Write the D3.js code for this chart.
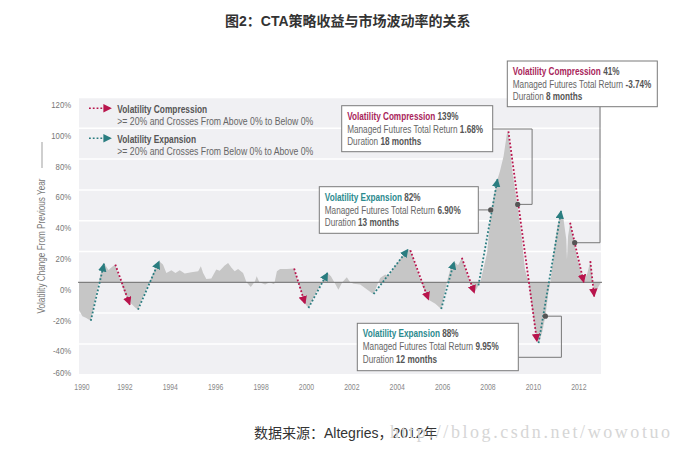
<!DOCTYPE html>
<html><head><meta charset="utf-8">
<script src="https://cdn.jsdelivr.net/npm/d3@7"></script>
<style>
body{margin:0;background:#fff;}
svg{display:block;}
.nar{font-family:'Liberation Sans','Arial',sans-serif;}
</style></head><body>
<svg id="c" width="682" height="449"></svg>
<script>
// ---------- DATA ----------
const seriesYears = [1990.00,1990.15,1990.30,1990.52,1990.70,1990.87,1991.00,1991.10,1991.30,1991.45,1991.60,1991.80,1992.00,1992.24,1992.45,1992.60,1992.80,1993.10,1993.30,1993.53,1993.70,1993.85,1994.07,1994.25,1994.44,1994.66,1994.95,1995.25,1995.37,1995.47,1995.61,1995.83,1996.05,1996.20,1996.42,1996.57,1996.72,1996.86,1997.01,1997.23,1997.38,1997.57,1997.75,1997.83,1997.95,1998.20,1998.40,1998.60,1998.72,1998.86,1999.16,1999.48,1999.70,1999.96,2000.11,2000.40,2000.70,2000.95,2001.10,2001.25,2001.43,2001.60,2001.80,2001.95,2002.10,2002.39,2002.60,2002.90,2002.98,2003.27,2003.49,2003.65,2003.86,2004.08,2004.30,2004.49,2004.60,2004.90,2005.15,2005.40,2005.70,2005.96,2006.21,2006.35,2006.53,2006.70,2006.87,2007.10,2007.30,2007.45,2007.68,2007.98,2008.12,2008.27,2008.44,2008.55,2008.71,2008.85,2008.92,2009.08,2009.30,2009.50,2009.65,2009.81,2009.95,2010.10,2010.25,2010.40,2010.55,2010.68,2010.77,2010.91,2011.08,2011.24,2011.35,2011.47,2011.50,2011.55,2011.64,2011.82,2011.97,2012.24,2012.40,2012.53,2012.62,2012.72,2012.90,2013.00];
const seriesValues = [-18,-22,-23,-25,-12,0,9,12.6,8,10,11.5,2,-7,-13,-16,-17.8,-10,0,7,13.7,11.5,6,7.8,6,7.8,5.7,6.5,7.2,10.4,6,2.2,2.5,8.3,7.5,10.9,12.6,9.5,7.2,8.7,6,0,-3,0.5,3.9,0,-1.5,0,-1.3,7.2,8.7,8.7,8.9,-2,-13.9,-16.7,-8,0,6.1,4,0,-4.8,0,3.3,0,-1,-1.5,-3.7,-6.9,-7.6,2.8,5,4,9.4,13.7,18,21.3,20.8,8,-3,-11.3,-14,-17.3,0,8,13.3,11,15.9,5,-2,-6,0,19,40.8,56,66.9,72.3,82,96.2,98,73.4,51.7,30,8.3,0,-15.6,-30.8,-39.5,-33,-22,-6.9,0,19,36.5,46.3,40.8,28,14.8,30,38.7,25.7,14.8,0,6,13.7,2,-7,-2.6,0];

// Volatility expansion moves (teal): start [year, value] -> end [year, value]
const expansionStart = [[1990.52,-25],[1992.60,-17.8],[2000.11,-16.7],[2002.98,-7.6],[2005.96,-17.3],[2007.60,-2],[2010.25,-39.5]];
const expansionEnd   = [[1991.10,12],[1993.53,13.7],[2000.95,6.1],[2004.49,21.3],[2006.53,13.3],[2008.44,66.9],[2011.24,46.3]];
// Volatility compression moves (red)
const compressionStart = [[1991.60,11.5],[1999.48,8.9],[2004.60,20.8],[2006.87,15.9],[2008.92,98],[2011.64,38.7],[2012.53,13.7]];
const compressionEnd   = [[1992.24,-14.5],[1999.96,-13.9],[2005.40,-11.3],[2007.42,-6.9],[2010.18,-38.4],[2012.24,0],[2012.70,-9.1]];

const xTickYears = [1990,1992,1994,1996,1998,2000,2002,2004,2006,2008,2010,2012];
const yTickValues = [-60,-40,-20,0,20,40,60,80,100,120];

// Annotations
const annType     = ["Volatility Compression","Volatility Expansion","Volatility Compression","Volatility Expansion"];
const annMove     = ["139%","82%","41%","88%"];
const annReturn   = ["1.68%","6.90%","-3.74%","9.95%"];
const annDuration = ["18 months","13 months","8 months","12 months"];
const annAnchor   = [[2009.33,50.6],[2008.14,47],[2011.84,25.7],[2010.55,-22]];

// ---------- LAYOUT ----------
const NARROW = 0.82;
const svg = d3.select('#c');
const x = d3.scaleLinear().domain([1990,2013]).range([79,601]);
const y = d3.scaleLinear().domain([-60,120]).range([374.7,97.5]);
const RED = '#b8144c', TEAL = '#2a7d80';

function ntext(parent, px, py, size, rot){
  return parent.append('text').attr('class','nar')
    .attr('transform',`translate(${px},${py})${rot?` rotate(${rot})`:''} scale(${NARROW},1)`)
    .style('font-size',size+'px');
}

// title
svg.append('text').attr('x',225).attr('y',26)
  .style('font-family',"'Liberation Sans','Noto Sans CJK SC',sans-serif")
  .style('font-weight','bold').style('font-size','14px').attr('fill','#333')
  .text('图2：CTA策略收益与市场波动率的关系');

// plot background
svg.append('rect').attr('x',x(1990)).attr('y',y(120)).attr('width',x(2013)-x(1990)).attr('height',y(-60)-y(120)).attr('fill','#f0f0f3');

// gridlines
svg.append('g').selectAll('line').data(yTickValues.filter(v=>v!==0)).join('line')
  .attr('x1',x(1990)).attr('x2',x(2013)).attr('y1',d=>y(d)).attr('y2',d=>y(d))
  .attr('stroke','#ffffff').attr('stroke-width',1.5);

// area
const pts = seriesYears.map((t,i)=>[t,seriesValues[i]]);
svg.append('path').datum(pts)
  .attr('d',d3.area().x(d=>x(d[0])).y0(y(0)).y1(d=>y(d[1])))
  .attr('fill','#c6c6c6');

// zero line
svg.append('line').attr('x1',x(1990)-1).attr('x2',x(2013)+1).attr('y1',y(0)).attr('y2',y(0))
  .attr('stroke','#6a6a6a').attr('stroke-width',1);

// markers
const defs = svg.append('defs');
[['arrR',RED],['arrT',TEAL]].forEach(([id,c])=>{
  defs.append('marker').attr('id',id).attr('viewBox','0 0 10 10').attr('refX',9).attr('refY',5)
    .attr('markerWidth',8.5).attr('markerHeight',8.5).attr('markerUnits','userSpaceOnUse').attr('orient','auto')
    .append('path').attr('d','M0,0 L10,5 L0,10 Z').attr('fill',c);
});

function moves(starts, ends, color, mid){
  svg.append('g').selectAll('line').data(starts.map((s,i)=>[s,ends[i]])).join('line')
    .attr('x1',d=>x(d[0][0])).attr('y1',d=>y(d[0][1]))
    .attr('x2',d=>x(d[1][0])).attr('y2',d=>y(d[1][1]))
    .attr('stroke',color).attr('stroke-width',1.8).attr('stroke-dasharray','1.8,2')
    .attr('marker-end',`url(#${mid})`);
}
moves(expansionStart, expansionEnd, TEAL, 'arrT');
moves(compressionStart, compressionEnd, RED, 'arrR');

// axes
const ya = svg.append('g').attr('transform',`translate(72,0)`)
  .call(d3.axisLeft(y).tickValues(yTickValues).tickFormat(d=>d+'%').tickSize(0).tickPadding(1));
ya.select('.domain').remove();
ya.selectAll('text').attr('class','nar').style('font-size','9.5px').attr('fill','#777')
  .attr('dy',d=> d===-60 ? '0.1em' : '1.05em').attr('transform',`scale(${NARROW},1)`);
const xa = svg.append('g').attr('transform',`translate(0,${y(-60)})`)
  .call(d3.axisBottom(x).tickValues(xTickYears).tickFormat(d3.format('d')).tickSize(0).tickPadding(9));
xa.select('.domain').remove();
xa.selectAll('text').attr('class','nar').style('font-size','8.4px').attr('fill','#888')
  .attr('dx',d=>d===1990?'3':'0').attr('transform',`scale(${NARROW},1)`);

// y title
svg.append('rect').attr('x',41).attr('y',142).attr('width',2).attr('height',26).attr('fill','#cfcfcf');
ntext(svg,45,246,10,-90).attr('text-anchor','middle').attr('fill','#777')
  .text('Volatility Change From Previous Year');

// legend
const leg = [[RED,'arrR','Volatility Compression','>= 20% and Crosses From Above 0% to Below 0%',108.3],
             [TEAL,'arrT','Volatility Expansion','>= 20% and Crosses From Below 0% to Above 0%',138.3]];
leg.forEach(([c,m,t1,t2,yy])=>{
  svg.append('line').attr('x1',89).attr('x2',111).attr('y1',yy).attr('y2',yy)
    .attr('stroke',c).attr('stroke-width',1.6).attr('stroke-dasharray','1.8,2').attr('marker-end',`url(#${m})`);
  ntext(svg,117.3,yy+4.3,10.2).style('font-weight','bold').attr('fill','#555').text(t1);
  ntext(svg,117.3,yy+16.3,10.6).attr('fill','#666').text(t2);
});

// annotation boxes (layout)
const boxes = [{x:341.7,y:105.7,w:151,h:46},{x:319.3,y:186.7,w:159,h:46.6},{x:507.3,y:61,w:150,h:45.7},{x:357.3,y:323.3,w:161,h:47.4}];
annType.forEach((tp,i)=>{
  const b = boxes[i];
  const ax = x(annAnchor[i][0]), ay = y(annAnchor[i][1]);
  let route;
  if(i===0) route = [[b.x+b.w,b.y+23.3],[ax+14.4,b.y+23.3],[ax+14.4,ay],[ax,ay]];
  else if(i===1) route = [[b.x+b.w,ay],[ax,ay]];
  else if(i===2) route = [[600,b.y+b.h],[600,ay],[ax,ay]];
  else route = [[b.x+b.w,b.y+34],[ax+16,b.y+34],[ax+16,ay],[ax,ay]];
  svg.append('path').attr('d',d3.line()(route)).attr('fill','none').attr('stroke','#777').attr('stroke-width',1);
  svg.append('circle').attr('cx',ax).attr('cy',ay).attr('r',2.6).attr('fill','#555');
  svg.append('rect').attr('x',b.x).attr('y',b.y).attr('width',b.w).attr('height',b.h)
    .attr('fill','#fff').attr('stroke','#7a7a7a').attr('stroke-width',1);
  const t1 = ntext(svg,b.x+5.5,b.y+14,10);
  t1.append('tspan').attr('fill',tp.includes('Compression')?'#a8245a':'#2b8a8e').style('font-weight','bold').text(tp);
  t1.append('tspan').attr('fill','#555').style('font-weight','bold').text(' '+annMove[i]);
  const t2 = ntext(svg,b.x+5.5,b.y+26.8,10).attr('fill','#666');
  t2.append('tspan').text('Managed Futures Total Return ');
  t2.append('tspan').style('font-weight','bold').attr('fill','#555').text(annReturn[i]);
  const t3 = ntext(svg,b.x+5.5,b.y+39.3,10).attr('fill','#666');
  t3.append('tspan').text('Duration ');
  t3.append('tspan').style('font-weight','bold').attr('fill','#555').text(annDuration[i]);
});

// caption + watermark
svg.append('text').attr('x',254).attr('y',438)
  .style('font-family',"'Liberation Sans','Noto Sans CJK SC',sans-serif").style('font-size','14px').attr('fill','#333')
  .text('数据来源：Altegries，2012年');
svg.append('text').attr('x',390).attr('y',438).attr('textLength',280).attr('lengthAdjust','spacing')
  .style('font-family',"'Liberation Serif','DejaVu Serif',serif").style('font-size','18px').attr('fill','#d6d6d6')
  .text('http://blog.csdn.net/wowotuo');
</script>
</body></html>
